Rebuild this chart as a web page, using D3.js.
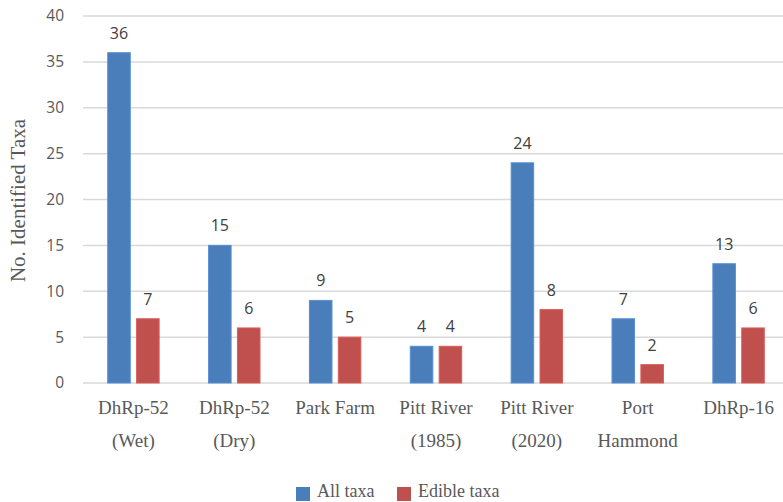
<!DOCTYPE html>
<html>
<head>
<meta charset="utf-8">
<script src="https://cdn.jsdelivr.net/npm/d3@7"></script>
<style>
  body { margin: 0; background: #fff; }
  svg { display: block; }
</style>
</head>
<body>
<svg id="chart" width="783" height="502"></svg>
<script>
// categories, split on two lines like the original axis
const categories = [
  ['DhRp-52', '(Wet)'],
  ['DhRp-52', '(Dry)'],
  ['Park Farm'],
  ['Pitt River', '(1985)'],
  ['Pitt River', '(2020)'],
  ['Port', 'Hammond'],
  ['DhRp-16']
]
const seriesNames = ['All taxa', 'Edible taxa']
const allTaxa = [36, 15, 9, 4, 24, 7, 13]
const edibleTaxa = [7, 6, 5, 4, 8, 2, 6]
const yTicks = [0, 5, 10, 15, 20, 25, 30, 35, 40]
const colors = ['#4a7ebb', '#c0504d']

const svg = d3.select('#chart')
const margin = { left: 83, right: -6, top: 16, bottom: 119 }
const width = 783 - margin.left - margin.right
const height = 502 - margin.top - margin.bottom

const x0 = d3.scaleBand()
  .domain(d3.range(categories.length))
  .range([margin.left, margin.left + width])
  .padding(0)

const x1 = d3.scaleBand()
  .domain(seriesNames)
  .range([-25.7, 25.7])
  .paddingInner(0.22)
  .paddingOuter(0)

const y = d3.scaleLinear()
  .domain([0, 40])
  .range([margin.top + height, margin.top])

// gridlines
svg.append('g')
  .selectAll('line')
  .data(yTicks)
  .enter()
  .append('line')
  .attr('x1', margin.left)
  .attr('x2', margin.left + width)
  .attr('y1', (d) => y(d))
  .attr('y2', (d) => y(d))
  .attr('stroke', '#d9d9d9')
  .attr('stroke-width', 1.5)

// y axis labels
const yAxis = d3.axisLeft(y).tickValues(yTicks).tickSize(0).tickPadding(19)
const yg = svg.append('g')
  .attr('transform', `translate(${margin.left},0)`)
  .call(yAxis)
yg.select('.domain').remove()
yg.selectAll('text')
  .attr('font-family', '"Open Sans", sans-serif')
  .attr('font-size', 15.5)
  .attr('fill', '#595959')

const series = [allTaxa, edibleTaxa]
const rows = categories.map((c, i) => ({
  i,
  values: seriesNames.map((name, s) => ({ name, s, value: series[s][i] }))
}))

const groups = svg.append('g')
  .selectAll('g')
  .data(rows)
  .enter()
  .append('g')
  .attr('transform', (d) => `translate(${x0(d.i) + x0.bandwidth() / 2},0)`)

groups.selectAll('rect')
  .data((d) => d.values)
  .enter()
  .append('rect')
  .attr('x', (d) => x1(d.name))
  .attr('width', x1.bandwidth())
  .attr('y', (d) => y(d.value))
  .attr('height', (d) => y(0) - y(d.value))
  .attr('fill', (d) => colors[d.s])
  .attr('stroke', (d) => d3.color(colors[d.s]).brighter(0.35))
  .attr('stroke-width', 1)

groups.selectAll('text.value')
  .data((d) => d.values)
  .enter()
  .append('text')
  .attr('class', 'value')
  .attr('x', (d) => x1(d.name) + x1.bandwidth() / 2)
  .attr('y', (d) => y(d.value) - 14)
  .attr('text-anchor', 'middle')
  .attr('font-family', '"Open Sans", sans-serif')
  .attr('font-size', 16)
  .attr('fill', '#404040')
  .text((d) => d.value)

// category labels
const catLabels = svg.append('g')
  .selectAll('text')
  .data(categories)
  .enter()
  .append('text')
  .attr('text-anchor', 'middle')
  .attr('font-family', '"Liberation Serif", serif')
  .attr('font-size', 19)
  .attr('fill', '#595959')

catLabels.selectAll('tspan')
  .data((d, i) => d.map((line) => ({ line, i })))
  .enter()
  .append('tspan')
  .attr('x', (d) => x0(d.i) + x0.bandwidth() / 2)
  .attr('y', (d, j) => y(0) + 31 + j * 32.5)
  .text((d) => d.line)

// y axis title
svg.append('text')
  .attr('transform', `translate(25,${(y(0) + y(40)) / 2 + 1}) rotate(-90)`)
  .attr('text-anchor', 'middle')
  .attr('font-family', '"Liberation Serif", serif')
  .attr('font-size', 21)
  .attr('fill', '#595959')
  .text('No. Identified Taxa')

// legend
const legendX = [296, 397]
const legend = svg.append('g')
  .selectAll('g')
  .data(seriesNames)
  .enter()
  .append('g')
  .attr('transform', (d, i) => `translate(${legendX[i]},487)`)

legend.append('rect')
  .attr('width', 14)
  .attr('height', 14)
  .attr('fill', (d, i) => colors[i])

legend.append('text')
  .attr('x', 21)
  .attr('y', 10)
  .attr('font-family', '"Liberation Serif", serif')
  .attr('font-size', 18)
  .attr('fill', '#595959')
  .text((d) => d)
</script>
</body>
</html>
